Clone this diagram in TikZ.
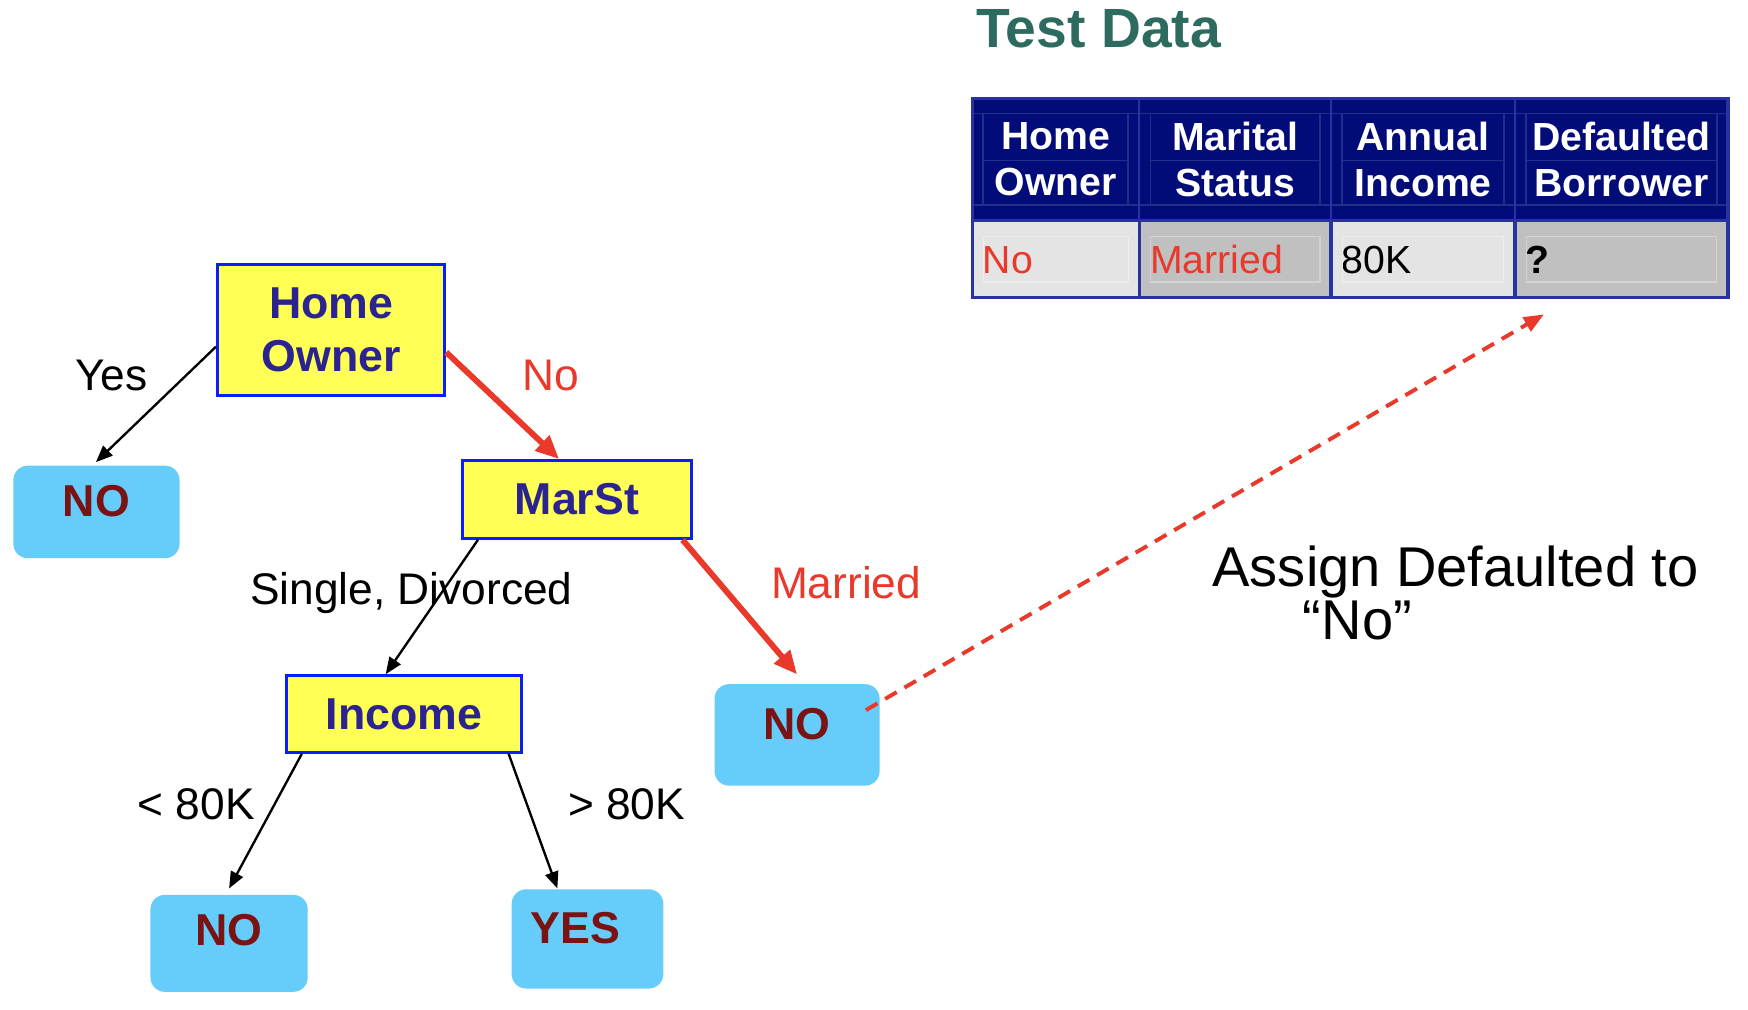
\documentclass[tikz,border=0pt]{standalone}
\usepackage{fontspec}
\setmainfont{Liberation Sans}
\usetikzlibrary{arrows.meta}

\definecolor{boxyellow}{RGB}{255,255,85}
\definecolor{boxblue}{RGB}{10,30,255}
\definecolor{boxtext}{RGB}{42,35,144}
\definecolor{leafblue}{RGB}{102,204,250}
\definecolor{leaftext}{RGB}{122,20,20}
\definecolor{pathred}{RGB}{233,57,43}
\definecolor{titlegreen}{RGB}{45,107,96}
\definecolor{headnavy}{RGB}{2,12,120}
\definecolor{gridblue}{RGB}{40,50,160}
\definecolor{headinner}{RGB}{35,45,140}
\definecolor{cellA}{RGB}{228,228,228}
\definecolor{cellB}{RGB}{192,192,192}

\newcommand\treefont{\fontsize{11.4}{13.7}\selectfont\bfseries}
\newcommand\edgefont{\fontsize{11.3}{13.5}\selectfont}
\newcommand\headfont{\fontsize{10}{11.7}\selectfont\bfseries}
\newcommand\cellfont{\fontsize{10}{12}\selectfont}
\newcommand\titlefont{\fontsize{14.1}{16}\selectfont\bfseries}
\newcommand\assignfont{\fontsize{14.3}{13.4}\selectfont\lineskiplimit=-20pt}

\begin{document}
\begin{tikzpicture}[x=0.01cm,y=-0.01cm,
  decision/.style={draw=boxblue,line width=0.7pt,fill=boxyellow,text=boxtext,
    font=\treefont,align=center,inner sep=0pt},
  leaf/.style={fill=leafblue,rounded corners=0.13cm,text=leaftext,font=\treefont,
    anchor=north,inner sep=0pt,text height=0.29cm,text depth=0.2cm},
  edgelbl/.style={font=\edgefont,inner sep=0pt,text height=0.29cm,text depth=0pt},
  branch/.style={line width=0.6pt,-{Triangle[length=0.15cm,width=0.12cm]}},
  redbranch/.style={pathred,line width=1.5pt,-{Triangle[length=0.21cm,width=0.18cm]}},
  headcell/.style={fill=headnavy,text=white,font=\headfont,align=center,
    minimum height=1.10cm,inner sep=0pt},
  datacell/.style={anchor=west,font=\cellfont,align=left,minimum height=0.69cm,
    inner xsep=0.09cm,inner ysep=0pt,text height=0.25cm,text depth=0pt}]
\useasboundingbox (0,0) rectangle (1568,906);

\node[font=\titlefont,text=titlegreen,anchor=base west,inner sep=0pt] (title) at (875,43) {Test Data};

\foreach \c/\xl/\xr/\head/\val/\vcol/\vfill in
  {1/872/1022/{Home\\Owner}/No/pathred/cellA,
   2/1022/1194/{Marital\\Status}/Married/pathred/cellB,
   3/1194/1359/{Annual\\Income}/80K/black/cellA,
   4/1359/1550/{Defaulted\\Borrower}/{\textbf{?}}/black/cellB}
{
  \pgfmathsetmacro\w{(\xr-\xl)/100}
  \pgfmathsetmacro\tw{(\xr-\xl)/100-0.18}
  \node[headcell,minimum width=\w cm] (h\c) at ({(\xl+\xr)/2},143) {\head};
  \node[datacell,fill=\vfill,text=\vcol,text width=\tw cm] (d\c) at (\xl,232.5) {\val};
  \draw[headinner,line width=0.4pt] (\xl+10,102) -- (\xl+10,184) (\xr-10,102) -- (\xr-10,184)
    (\xl+10,144) -- (\xr-10,144);
  \draw[white!30!\vfill,line width=0.3pt] (\xl+10,212) rectangle (\xr-10,253);
}
\draw[headinner,line width=0.4pt] (872,102) -- (1550,102) (872,184) -- (1550,184);
\draw[gridblue,line width=0.6pt] (1022,88) -- (1022,198) (1194,88) -- (1194,198) (1359,88) -- (1359,198);
\draw[gridblue,line width=0.9pt] (872,198) -- (1550,198)
  (1022,198) -- (1022,267) (1194,198) -- (1194,267) (1359,198) -- (1359,267);
\draw[gridblue,line width=0.8pt] (872,88) rectangle (1550,267);

\node[decision,minimum width=2.04cm,minimum height=1.18cm] (home) at (297,296) {Home\\Owner};
\node[decision,minimum width=2.05cm,minimum height=0.70cm] (marst) at (517.5,448) {MarSt};
\node[decision,minimum width=2.11cm,minimum height=0.69cm] (income) at (362.5,640.5) {Income};

\node[leaf,minimum width=1.49cm,minimum height=0.83cm] (no1) at (86.5,417) {NO};
\node[leaf,minimum width=1.48cm,minimum height=0.91cm] (no2) at (715,613) {NO};
\node[leaf,minimum width=1.41cm,minimum height=0.87cm,text depth=0.26cm] (no3) at (205.5,802) {NO};
\node[leaf,minimum width=1.36cm,minimum height=0.89cm] (yes) at (527,797) {YES\hspace*{0.22cm}};

\node[edgelbl] (lyes) at (100,336) {Yes};
\node[edgelbl,text=pathred] (lno) at (494,336) {No};
\node[edgelbl] (lsd) at (369,528) {Single, Divorced};
\node[edgelbl,text=pathred] (lmar) at (759,522) {Married};
\node[edgelbl] (llow) at (176,721) {< 80K};
\node[edgelbl] (lhigh) at (562,721) {> 80K};

\draw[branch,shorten >=1pt] ([yshift=-0.15cm]home.west) -- ([xshift=-0.03cm]no1.north);
\draw[redbranch] ([yshift=-0.2cm]home.east) -- ([xshift=-0.16cm]marst.north);
\draw[branch] ([xshift=0.15cm]marst.south west) -- ([xshift=-0.165cm]income.north);
\draw[redbranch] ([xshift=-0.09cm]marst.south east) -- ([yshift=0.08cm]no2.north);
\draw[branch] ([xshift=0.15cm]income.south west) -- ([yshift=0.05cm]no3.north);
\draw[branch] ([xshift=-0.13cm]income.south east) -- ([xshift=-0.27cm]yes.north);

\coordinate (tip) at (1385,282);
\draw[pathred,line width=1pt,dash pattern=on 0.12cm off 0.08cm,
  -{Triangle[length=0.18cm,width=0.14cm]}] ([xshift=-0.13cm,yshift=-0.24cm]no2.north east) -- (tip);

\node[font=\assignfont,anchor=north west,align=left,inner sep=0pt] (assign) at (1087,489)
  {Assign Defaulted to\\\hspace*{0.81cm}“No”};
\end{tikzpicture}
\end{document}
